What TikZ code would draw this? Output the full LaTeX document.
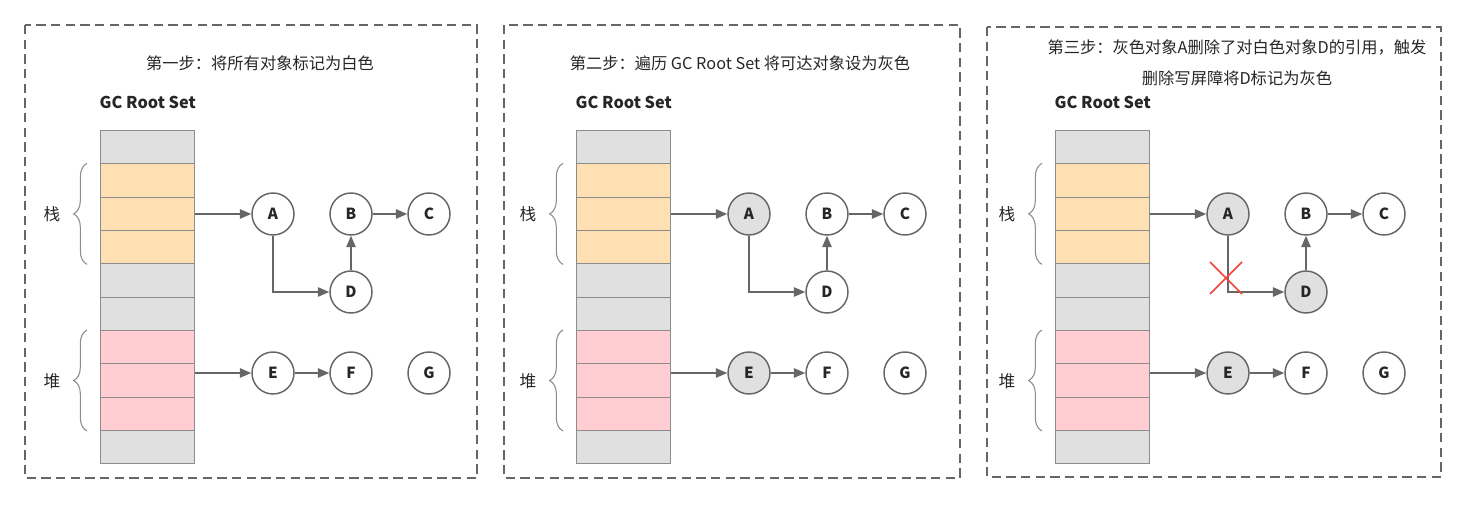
\documentclass[tikz,border=0pt]{standalone}
\usepackage{fontspec}
\setmainfont{Noto Sans CJK SC}
\usetikzlibrary{arrows.meta,decorations.pathreplacing}
\definecolor{linegray}{HTML}{666666}
\definecolor{textgray}{HTML}{262626}
\definecolor{cellgray}{HTML}{E0E0E0}
\definecolor{cellorange}{HTML}{FFE0B2}
\definecolor{cellpink}{HTML}{FFCDD2}
\definecolor{cellborder}{HTML}{8C8C8C}
\definecolor{markgray}{HTML}{E0E0E0}
\definecolor{crossred}{HTML}{F44336}
\tikzset{
  obj/.style={circle, draw=linegray, fill=white, line width=1.1pt, minimum size=31.5pt, inner sep=0pt,
    text=textgray, font=\bfseries\fontsize{11.5}{13}\selectfont},
  ref/.style={draw=linegray, line width=1.1pt, -{Triangle[length=8.5pt,width=7pt]}},
  cell/.style={draw=cellborder, line width=0.8pt, minimum width=70.5pt, minimum height=25pt,
    inner sep=0pt, anchor=north west},
  frame/.style={draw=linegray, line width=1.1pt, dash pattern=on 7pt off 4pt},
  steptitle/.style={text=textgray, font=\fontsize{12.2}{14}\selectfont},
  rootlabel/.style={text=textgray, anchor=west, font=\bfseries\fontsize{12.2}{14}\selectfont},
  memlabel/.style={text=textgray, font=\fontsize{12.5}{14}\selectfont},
  membrace/.style={draw=cellborder, line width=0.8pt, decorate, decoration={brace, amplitude=10pt}},
}
\begin{document}
\begin{tikzpicture}[x=0.75pt, y=-0.75pt, node distance=58.5pt]
  \useasboundingbox (0,0) rectangle (1466,504);
  % dashed frames of the three steps
  \draw[frame] (25,25) rectangle (477,478);
  \draw[frame] (504,25) rectangle (960,478);
  \draw[frame] (987,27) rectangle (1441,477);

  % titles
  \node[steptitle] (title1) at (260,63) {第一步：将所有对象标记为白色};
  \node[steptitle] (title2) at (740,63) {第二步：遍历 GC Root Set 将可达对象设为灰色};
  \node[steptitle] (title3a) at (1237,47) {第三步：灰色对象A删除了对白色对象D的引用，触发};
  \node[steptitle] (title3b) at (1237,78) {删除写屏障将D标记为灰色};

  \foreach \p/\dx/\fa/\fd in {1/0/white/white, 2/476/markgray/white, 3/955/markgray/markgray} {
    \begin{scope}[xshift=\dx*0.75pt]
      \node[rootlabel] (root\p) at (95,102) {GC Root Set};
      \foreach \i/\c in {0/cellgray,1/cellorange,2/cellorange,3/cellorange,4/cellgray,
                         5/cellgray,6/cellpink,7/cellpink,8/cellpink,9/cellgray}
        \node[cell, fill=\c] (cell\p-\i) at (100,130+\i*33.33) {};
      \draw[membrace] ([xshift=-9.75pt]cell\p-3.south west) -- ([xshift=-9.75pt]cell\p-1.north west);
      \draw[membrace] ([xshift=-9.75pt]cell\p-8.south west) -- ([xshift=-9.75pt]cell\p-6.north west);
      \node[memlabel] (stack\p) at (52,214) {栈};
      \node[memlabel] (heap\p) at (52,381) {堆};

      \node[obj, fill=\fa] (A\p) at (273,214) {A};
      \node[obj] (B\p) [right of=A\p] {B};
      \node[obj] (C\p) [right of=B\p] {C};
      \node[obj, fill=\fd] (D\p) [below of=B\p] {D};
      \node[obj, fill=\fa] (E\p) at (273,373) {E};
      \node[obj] (F\p) [right of=E\p] {F};
      \node[obj] (G\p) [right of=F\p] {G};

      \draw[ref] (cell\p-2.east |- A\p) -- (A\p);
      \draw[ref] (A\p) |- (D\p);
      \draw[ref] (D\p) -- (B\p);
      \draw[ref] (B\p) -- (C\p);
      \draw[ref] (cell\p-7.east |- E\p) -- (E\p);
      \draw[ref] (E\p) -- (F\p);
    \end{scope}
  }

  % the deleted reference A -> D
  \coordinate (cut) at (1226,278);
  \draw[crossred, line width=1.1pt] ([shift={(-16,-16)}]cut) -- ([shift={(16,16)}]cut)
                                    ([shift={(16,-16)}]cut) -- ([shift={(-16,16)}]cut);
\end{tikzpicture}
\end{document}
